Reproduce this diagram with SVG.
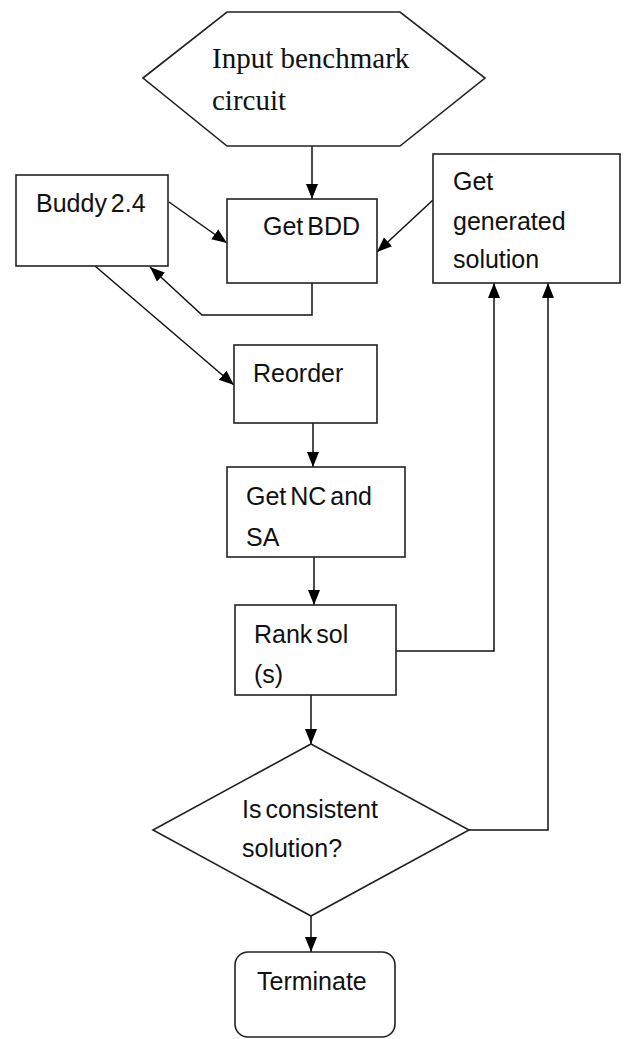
<svg xmlns="http://www.w3.org/2000/svg" width="627" height="1039" viewBox="0 0 627 1039">
<style>
.shape{fill:#fff;stroke:#222;stroke-width:1.6}
.conn{fill:none;stroke:#111;stroke-width:1.5}
.t{font-family:"Liberation Sans",Arial,sans-serif;font-size:25px;fill:#111;word-spacing:-3px}
.ts{font-family:"Liberation Serif","Times New Roman",serif;font-size:29px;fill:#111}
</style>
<defs>
<marker id="ah" markerUnits="userSpaceOnUse" markerWidth="16" markerHeight="16" viewBox="0 0 16 16" refX="15" refY="8" orient="auto">
<path d="M0,2 L15,8 L0,14 Z" fill="#000"/>
</marker>
</defs>
<rect width="627" height="1039" fill="#fff"/>
<g id="connectors">
<path class="conn" d="M312,146 V199" marker-end="url(#ah)"/>
<path class="conn" d="M169,202 L227,243" marker-end="url(#ah)"/>
<path class="conn" d="M433,200 L377,252" marker-end="url(#ah)"/>
<path class="conn" d="M312,283 V315 H202 L150,267" marker-end="url(#ah)"/>
<path class="conn" d="M95,266 L234,385" marker-end="url(#ah)"/>
<path class="conn" d="M313,423 V467" marker-end="url(#ah)"/>
<path class="conn" d="M314,557 V605" marker-end="url(#ah)"/>
<path class="conn" d="M396,651 H494 V283" marker-end="url(#ah)"/>
<path class="conn" d="M311,695 V744" marker-end="url(#ah)"/>
<path class="conn" d="M469,830 H548 V283" marker-end="url(#ah)"/>
<path class="conn" d="M311,916 V952" marker-end="url(#ah)"/>
</g>
<g id="input">
<polygon class="shape" points="143,78 227,12 400,12 485,78 400,146 227,146"/>
<text class="ts" x="212" y="68">Input benchmark</text>
<text class="ts" x="212" y="110">circuit</text>
</g>
<g id="buddy">
<rect class="shape" x="16" y="175" width="152" height="91"/>
<text class="t" x="36" y="212">Buddy 2.4</text>
</g>
<g id="getbdd">
<rect class="shape" x="227" y="199" width="150" height="84"/>
<text class="t" x="263" y="235">Get BDD</text>
</g>
<g id="getgen">
<rect class="shape" x="433" y="154" width="187" height="129"/>
<text class="t" x="453" y="190">Get</text>
<text class="t" x="453" y="230">generated</text>
<text class="t" x="453" y="268">solution</text>
</g>
<g id="reorder">
<rect class="shape" x="234" y="345" width="143" height="78"/>
<text class="t" x="253" y="382">Reorder</text>
</g>
<g id="getnc">
<rect class="shape" x="227" y="467" width="178" height="90"/>
<text class="t" x="246" y="505">Get NC and</text>
<text class="t" x="246" y="546">SA</text>
</g>
<g id="rank">
<rect class="shape" x="235" y="605" width="161" height="90"/>
<text class="t" x="254" y="643">Rank sol</text>
<text class="t" x="254" y="683">(s)</text>
</g>
<g id="decision">
<polygon class="shape" points="311,744 469,830 311,916 153,830"/>
<text class="t" x="242" y="818">Is consistent</text>
<text class="t" x="242" y="857">solution?</text>
</g>
<g id="terminate">
<rect class="shape" x="235" y="952" width="160" height="85" rx="13" ry="13"/>
<text class="t" x="257" y="990">Terminate</text>
</g>
</svg>
